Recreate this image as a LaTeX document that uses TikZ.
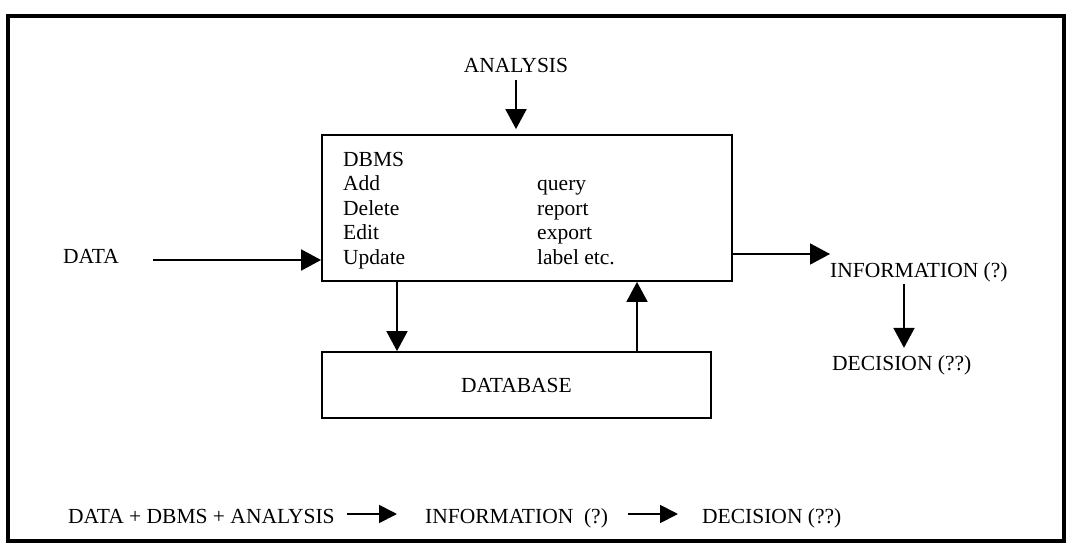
\documentclass[tikz,border=0pt]{standalone}
\usepackage{fontspec}
\setmainfont{Liberation Serif}
\usetikzlibrary{positioning, arrows.meta}

\begin{document}
\begin{tikzpicture}[x=1pt,y=-1pt,
    every node/.style={font=\fontsize{21.5}{25}\selectfont},
    box/.style={draw,line width=1.8pt,rectangle,inner sep=0pt},
    lbl/.style={anchor=base west,inner sep=0pt},
    arr/.style={line width=1.8pt,-{Triangle[length=20pt,width=21pt]}},
    sarr/.style={line width=1.8pt,-{Triangle[length=18pt,width=18pt]}}]
    \useasboundingbox (0,0) rectangle (1069,546);
    % outer frame
    \draw[line width=3.5pt] (8,16) rectangle (1064,541);

    % main boxes
    \node[box,minimum width=410pt,minimum height=146pt] (dbms) at (527,208) {};
    \node[box,minimum width=389pt,minimum height=66pt] (database) at (516.5,385) {DATABASE};

    % text inside the dbms box
    \node[lbl] (title) at (343,166) {DBMS};
    \node[lbl] (add) at (343,190.5) {Add};
    \node[lbl] (del) at (343,215) {Delete};
    \node[lbl] (edit) at (343,239.5) {Edit};
    \node[lbl] (upd) at (343,264) {Update};
    \node[lbl] (query) at (537,190.5) {query};
    \node[lbl] (report) at (537,215) {report};
    \node[lbl] (export) at (537,239.5) {export};
    \node[lbl] (labl) at (537,264) {label etc.};

    % inputs and outputs
    \node[anchor=base,inner sep=0pt] (analysis) at (516,72) {ANALYSIS};
    \node[lbl] (data) at (63,263) {DATA};
    \node[lbl] (info) at (830,277) {INFORMATION (?)};
    \node[lbl] (decision) at (832,370) {DECISION (??)};
    \coordinate (infotip) at (830,254);
    \coordinate (dataline) at (153,260);

    %putting arrows:
    \draw[arr,shorten <=8pt,shorten >=5pt] (analysis.south) -- (analysis.south |- dbms.north);
    \draw[arr] (dataline) -- (dbms.west |- dataline);
    \draw[arr] (dbms.east |- infotip) -- (infotip);
    \draw[arr,shorten <=2pt,shorten >=7pt] (info.south -| 904,0) -- (decision.north -| 904,0);
    \draw[arr] ([xshift=-130pt]dbms.south) -- ([xshift=-119.5pt]database.north);
    \draw[arr] ([xshift=120.5pt]database.north) -- ([xshift=110pt]dbms.south);

    % summary line at the bottom
    \node[lbl] (sum) at (68,523) {DATA + DBMS + ANALYSIS};
    \node[lbl] (info2) at (425,523) {INFORMATION~~(?)};
    \node[lbl] (dec2) at (702,523) {DECISION (??)};
    \coordinate (bot) at (0,514);
    \draw[sarr,shorten <=12pt,shorten >=28pt] (sum.east |- bot) -- (info2.west |- bot);
    \draw[sarr,shorten <=20pt,shorten >=24pt] (info2.east |- bot) -- (dec2.west |- bot);
\end{tikzpicture}
\end{document}
